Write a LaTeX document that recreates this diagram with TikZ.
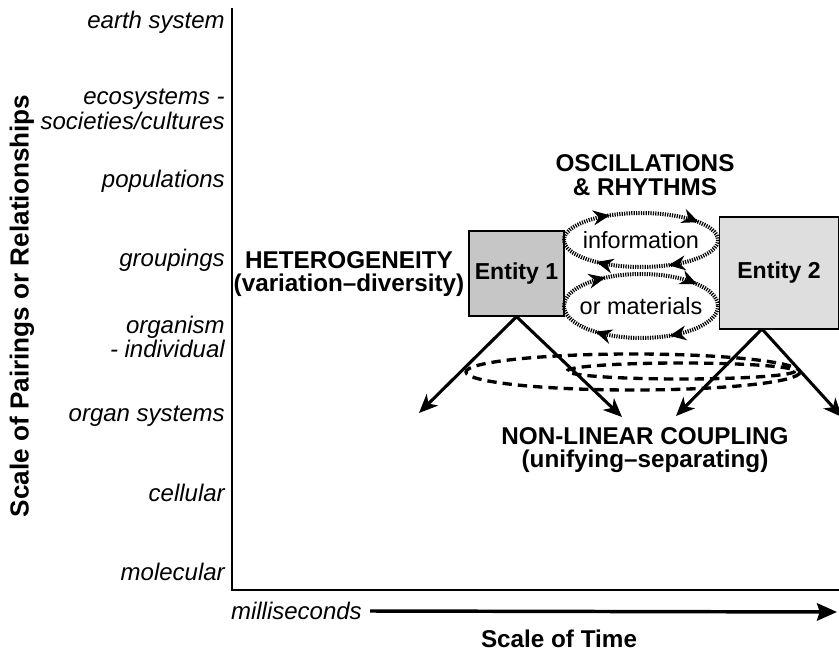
\documentclass[tikz,border=0pt]{standalone}
\usepackage{fontspec}
\setmainfont{Liberation Sans}
\usetikzlibrary{arrows.meta,decorations.markings}
\definecolor{entdark}{RGB}{198,198,198}
\definecolor{entlight}{RGB}{222,222,222}
\tikzset{
	scalelab/.style={anchor=east, inner sep=0pt, font=\fontsize{18}{19}\selectfont\itshape},
	headlab/.style={inner sep=0pt, align=center, font=\fontsize{18.2}{17.5}\selectfont\bfseries},
	entbox/.style={draw, line width=1pt, inner sep=0pt, font=\fontsize{17.3}{17}\selectfont\bfseries},
	flowlab/.style={inner sep=0pt, font=\fontsize{17.6}{18}\selectfont},
	coupling/.style={line width=2.3pt, -{Stealth[length=14pt,width=12pt,inset=4pt]}},
	loopline/.style={line width=3pt, dash pattern=on 0.9pt off 0.9pt},
	cloud/.style={line width=2.5pt, dash pattern=on 7pt off 4.5pt},
	looptip/.tip={Stealth[length=12.5pt,width=11pt,inset=4pt]}
}
\begin{document}
\begin{tikzpicture}[x=0.75pt,y=0.75pt,yscale=-1,xscale=1]
	\path[use as bounding box] (0,0) rectangle (839,652);
	
	%Shape: Axes
	\coordinate (ytop) at (232,8);
	\coordinate (origin) at (232,590);
	\coordinate (xend) at (839,590);
	\draw[line width=1.3pt] (ytop) -- (origin) -- (xend);
	
	% Text Node: scale labels
	\node[scalelab] (earth) at (225,22) {earth system};
	\node[scalelab] (eco1) at (225,99) {ecosystems -};
	\node[scalelab] (eco2) at (225,121) {societies/cultures};
	\node[scalelab] (popul) at (225,181) {populations};
	\node[scalelab] (group) at (225,260) {groupings};
	\node[scalelab] (orgm1) at (225,327) {organism};
	\node[scalelab] (orgm2) at (225,349) {- individual};
	\node[scalelab] (organ) at (225,416) {organ systems};
	\node[scalelab] (cell) at (225,493) {cellular};
	\node[scalelab] (molec) at (225,572) {molecular};
	\node[headlab, rotate=90, font=\fontsize{19.6}{20}\selectfont\bfseries] (ylab) at (22,306) {Scale of Pairings or Relationships};
	
	% Text Node: time axis
	\node[scalelab] (msec) at (362,611) {milliseconds};
	\coordinate (tend) at (837,612);
	\draw[line width=2.6pt, -{Stealth[length=15pt,width=13pt,inset=2pt]}] ([xshift=6pt]msec.east) -- (tend);
	\node[headlab] (xlab) at (559,639) {Scale of Time};
	
	% Text Node: headings
	\node[headlab] (hetero) at (349,274) {HETEROGENEITY\\(variation--diversity)};
	\node[headlab] (oscil) at (645,175) {OSCILLATIONS\\\& RHYTHMS};
	\node[headlab] (coupl) at (645,450) {NON-LINEAR COUPLING\\(unifying--separating)};
	
	%Shape: Dashed ellipses
	\coordinate (cloudA) at (633,372);
	\coordinate (cloudB) at (681,371);
	\draw[cloud] (cloudA) ellipse [x radius=167, y radius=18];
	\draw[cloud] (cloudB) ellipse [x radius=114, y radius=8];
	
	%Shape: Entities
	\node[entbox, fill=entdark, minimum width=71.25pt, minimum height=63.75pt] (ent1) at (516.5,273.5) {Entity 1};
	\node[entbox, fill=entlight, minimum width=89.25pt, minimum height=84pt] (ent2) at (779,273) {Entity 2};
	
	%Shape: Dotted loops
	\node[flowlab] (info) at (641,240) {information};
	\node[flowlab] (mater) at (641,306) {or materials};
	\draw[loopline, postaction={decorate}, decoration={markings,
		mark=at position 0.17 with {\arrow{looptip}},
		mark=at position 0.38 with {\arrow{looptip}},
		mark=at position 0.66 with {\arrow{looptip}},
		mark=at position 0.92 with {\arrow{looptip}}}]
		(info) ellipse [x radius=77, y radius=27];
	\draw[loopline, postaction={decorate}, decoration={markings,
		mark=at position 0.17 with {\arrow{looptip}},
		mark=at position 0.38 with {\arrow{looptip}},
		mark=at position 0.65 with {\arrow{looptip}},
		mark=at position 0.91 with {\arrow{looptip}}}]
		(mater) ellipse [x radius=77, y radius=32];
	
	%Shape: Coupling arrows
	\coordinate (apex2) at (762,329);
	\coordinate (tip1l) at (419,413);
	\coordinate (tip1r) at (622,417);
	\coordinate (tip2l) at (676,416);
	\coordinate (tip2r) at (842,417);
	\draw[coupling] (ent1.south) -- (tip1l);
	\draw[coupling] (ent1.south) -- (tip1r);
	\draw[coupling] (apex2) -- (tip2l);
	\draw[coupling] (apex2) -- (tip2r);
\end{tikzpicture}
\end{document}
